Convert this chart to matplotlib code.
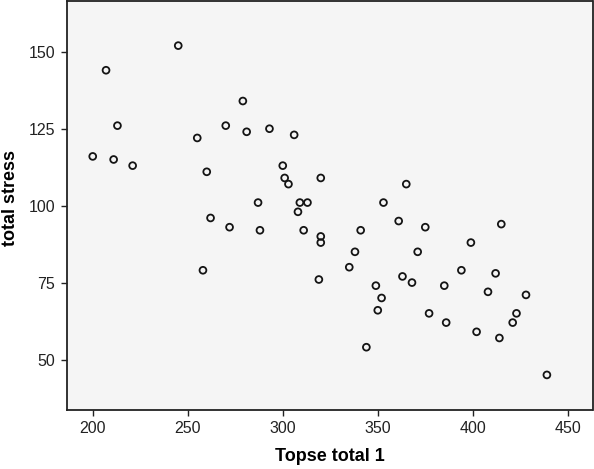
import matplotlib.pyplot as plt

# 数据：Topse total 1 与 total stress
topse = [200, 207, 211, 213, 221, 245, 255, 258, 260, 262, 270, 272, 279, 281,
         287, 288, 293, 300, 301, 303, 306, 308, 309, 311, 313, 319, 320, 320,
         320, 335, 338, 341, 344, 349, 350, 352, 353, 361, 363, 365, 368, 371,
         375, 377, 385, 386, 394, 399, 402, 408, 412, 414, 415, 421, 423, 428, 439]
stress = [116, 144, 115, 126, 113, 152, 122, 79, 111, 96, 126, 93, 134, 124,
          101, 92, 125, 113, 109, 107, 123, 98, 101, 92, 101, 76, 90, 88,
          109, 80, 85, 92, 54, 74, 66, 70, 101, 95, 77, 107, 75, 85,
          93, 65, 74, 62, 79, 88, 59, 72, 78, 57, 94, 62, 65, 71, 45]

xticks = [200, 250, 300, 350, 400, 450]
yticks = [50, 75, 100, 125, 150]

plt.rcParams['font.family'] = ['Liberation Sans', 'DejaVu Sans']

fig = plt.figure(figsize=(5.94, 4.69), dpi=100)
ax = fig.add_axes([66.7 / 594, 1 - 410.3 / 469, (592.5 - 66.7) / 594, 409.3 / 469])
ax.set_facecolor('#f5f5f5')

# 空心圆散点
ax.scatter(topse, stress, s=24, facecolors='none', edgecolors='#141414', linewidths=1.3)

ax.set_xlim(186.3, 463)
ax.set_ylim(33.5, 166.5)
ax.set_xticks(xticks)
ax.set_yticks(yticks)

for side in ['top', 'right', 'bottom', 'left']:
    ax.spines[side].set_linewidth(1.3)
    ax.spines[side].set_color('#222222')

ax.tick_params(axis='both', which='major', labelsize=11.5, length=4.5, width=1,
               direction='out', colors='#222222')
ax.tick_params(axis='x', pad=3)
ax.tick_params(axis='y', pad=4)

ax.set_xlabel('Topse total 1', fontsize=13, fontweight='bold')
ax.set_ylabel('total stress', fontsize=13, fontweight='bold')
ax.xaxis.set_label_coords(0.5, -0.0928)
ax.yaxis.set_label_coords(-0.0913, 0.518)

fig.savefig('out.png', dpi=100)
